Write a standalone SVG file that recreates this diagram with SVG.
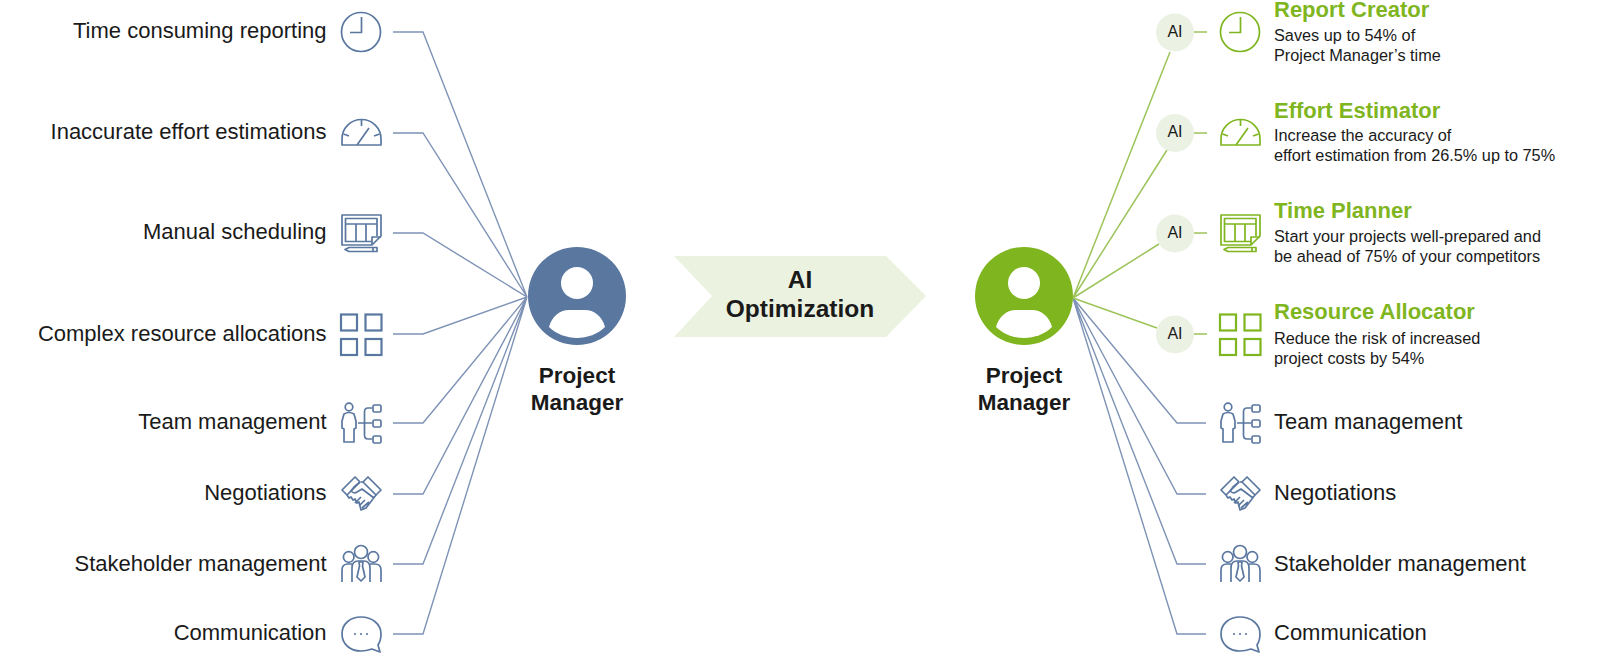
<svg xmlns="http://www.w3.org/2000/svg" width="1600" height="667" viewBox="0 0 1600 667">
<style>
text{font-family:"Liberation Sans",Arial,sans-serif;fill:#1a1a1a}
.lb{font-size:22px}
.r{text-anchor:end}
.pm{font-size:22.5px;font-weight:bold;text-anchor:middle}
.opt{font-size:24.5px;font-weight:bold;text-anchor:middle}
.t{font-size:22px;font-weight:bold;fill:#7fb51e}
.d{font-size:16.3px}
.ai{font-size:16px;text-anchor:middle}
.blue{color:#5a77a0}
.green{color:#7fb51e}
.ic{fill:none;stroke:currentColor;stroke-width:1.7;stroke-linejoin:round}
.ic2{fill:none;stroke:currentColor;stroke-width:2.2}
.bl{fill:none;stroke:#7e93b5;stroke-width:1.4}
.gl{fill:none;stroke:#9dc45a;stroke-width:1.5}
.dot{fill:currentColor;stroke:none}
.aic{fill:#ebf2e3}
</style>
<defs>
<g id="i-clock" class="ic"><circle cx="361" cy="32" r="19.5"/><path d="M361.500 17V32.500H350"/></g>
<g id="i-gauge" class="ic"><path d="M342 145V139A19.500 19.500 0 0 1 381 139V145Z"/><path d="M361.500 120V126M343.500 134L349 136M379.500 134L374 136M357 145L369 128"/></g>
<g id="i-cal" class="ic"><path d="M342 215H381V236L372 245H342Z"/><path d="M372 245V237H381"/><path d="M377 236V218.500H345.500V241.500H372M345.500 224H377M356 224V241.500M366 224V241.500"/><path d="M345 249.500L349 247.500H377V251.500H349ZM373 247.500V251.500"/></g>
<g id="i-res" class="ic2"><rect x="341" y="314.500" width="16" height="16"/><rect x="365.500" y="314.500" width="16" height="16"/><rect x="341" y="339" width="16" height="16"/><rect x="365.500" y="339" width="16" height="16"/></g>
<g id="i-team" class="ic"><circle cx="349" cy="407" r="3.800"/><path d="M344 414Q349 411 354 414L356 421V428L354 429V442H344V429L342 428V421Z"/><path d="M358 423H372M372 408H368Q364.500 408 364.500 412V435Q364.500 439 368 439H372"/><rect x="373" y="405" width="8" height="7" rx="1.500"/><rect x="373" y="420" width="8" height="7" rx="1.500"/><rect x="373" y="436" width="8" height="7" rx="1.500"/></g>
<g id="i-shake" class="ic"><path d="M342 490L355 477L360 482L347 495Z"/><path d="M381 490L368 477L363 482L376 495Z"/><path d="M360 482L354 487L351 491Q354 494 357 492L362 489L374 498M364 482H361M347 495L349 498L351 497L353 500L355 499L357 503L359 502L361 510L366 508L376 495M355 503L361 497M359 506L365 500M362 508L369 502"/></g>
<g id="i-stake" class="ic"><circle cx="361" cy="552" r="6.500"/><circle cx="348.700" cy="557" r="5.300"/><circle cx="373.300" cy="557" r="5.300"/><path d="M342 582V570Q342 564 348 564H352M381 582V570Q381 564 375 564H370M352 582V568Q352 561 358 561H364Q370 561 370 568V582"/><path d="M359 562H363L362.500 566L365 577L361 581L357 577L359.500 566Z"/></g>
<g id="i-comm" class="ic"><path d="M361 617C350 617 342 624 342 634C342 644 350 651 361 651C365 651 369 650 372 649L380 652L378 645C380 642 381 638 381 634C381 624 372 617 361 617Z"/><circle class="dot" cx="355" cy="634" r="1.100"/><circle class="dot" cx="361" cy="634" r="1.100"/><circle class="dot" cx="367" cy="634" r="1.100"/></g>
<g id="i-person"><circle cx="0" cy="0" r="49" fill="currentColor"/><circle cx="0" cy="-13" r="16" fill="#fff"/><path d="M-28 31C-25 20 -17 14 -8 14H8C17 14 25 20 28 31C21 38 10 42 0 42C-10 42 -21 38 -28 31Z" fill="#fff"/></g>
</defs>
<g id="connectors">
<path class="bl" d="M393 32H423L527 297M393 133H423L527 297M393 233H423L527 297M393 334H423L527 297M393 423H423L527 297M393 494H423L527 297M393 564H423L527 297M393 634H423L527 297"/>
<path class="bl" d="M1206 423H1177L1073 298M1206 494H1177L1073 298M1206 564H1177L1073 298M1206 634H1177L1073 298"/>
<path class="gl" d="M1073 298L1170 52M1073 298L1167 150M1073 298L1159 244M1073 298L1157 328"/>
<path class="gl" d="M1194 32H1207M1194 133H1207M1194 233H1207M1194 334H1207"/>
</g>
<g id="pm-left" class="blue"><use href="#i-person" x="577" y="296"/><text class="pm" x="577" y="383">Project</text><text class="pm" x="577" y="410">Manager</text></g>
<g id="pm-right" class="green"><use href="#i-person" x="1024" y="296"/><text class="pm" x="1024" y="383">Project</text><text class="pm" x="1024" y="410">Manager</text></g>
<g id="arrow"><polygon points="674,256 886,256 926,296 886,337 674,337 712,296" fill="#ebf2e0"/><text class="opt" x="800" y="288">AI</text><text class="opt" x="800" y="317">Optimization</text></g>
<g id="l1" class="blue"><text class="lb r" x="326.500" y="38">Time consuming reporting</text><use href="#i-clock"/></g>
<g id="l2" class="blue"><text class="lb r" x="326.500" y="139">Inaccurate effort estimations</text><use href="#i-gauge"/></g>
<g id="l3" class="blue"><text class="lb r" x="326.500" y="239">Manual scheduling</text><use href="#i-cal"/></g>
<g id="l4" class="blue"><text class="lb r" x="326.500" y="341">Complex resource allocations</text><use href="#i-res"/></g>
<g id="l5" class="blue"><text class="lb r" x="326.500" y="429">Team management</text><use href="#i-team"/></g>
<g id="l6" class="blue"><text class="lb r" x="326.500" y="500">Negotiations</text><use href="#i-shake"/></g>
<g id="l7" class="blue"><text class="lb r" x="326.500" y="571">Stakeholder management</text><use href="#i-stake"/></g>
<g id="l8" class="blue"><text class="lb r" x="326.500" y="640">Communication</text><use href="#i-comm"/></g>
<g id="r1" class="green"><circle class="aic" cx="1175" cy="32.500" r="19"/><text class="ai" x="1175" y="36.500">AI</text><use href="#i-clock" x="879"/><text class="t" x="1274" y="17">Report Creator</text><text class="d" x="1274" y="41">Saves up to 54% of</text><text class="d" x="1274" y="61">Project Manager’s time</text></g>
<g id="r2" class="green"><circle class="aic" cx="1175" cy="133" r="19"/><text class="ai" x="1175" y="137">AI</text><use href="#i-gauge" x="879"/><text class="t" x="1274" y="118">Effort Estimator</text><text class="d" x="1274" y="141">Increase the accuracy of</text><text class="d" x="1274" y="161">effort estimation from 26.5% up to 75%</text></g>
<g id="r3" class="green"><circle class="aic" cx="1175" cy="233.500" r="19"/><text class="ai" x="1175" y="238">AI</text><use href="#i-cal" x="879"/><text class="t" x="1274" y="218">Time Planner</text><text class="d" x="1274" y="242">Start your projects well-prepared and</text><text class="d" x="1274" y="262">be ahead of 75% of your competitors</text></g>
<g id="r4" class="green"><circle class="aic" cx="1175" cy="334.500" r="19"/><text class="ai" x="1175" y="339">AI</text><use href="#i-res" x="879"/><text class="t" x="1274" y="319">Resource Allocator</text><text class="d" x="1274" y="344">Reduce the risk of increased</text><text class="d" x="1274" y="364">project costs by 54%</text></g>
<g id="r5" class="blue"><use href="#i-team" x="879"/><text class="lb" x="1274" y="429">Team management</text></g>
<g id="r6" class="blue"><use href="#i-shake" x="879"/><text class="lb" x="1274" y="500">Negotiations</text></g>
<g id="r7" class="blue"><use href="#i-stake" x="879"/><text class="lb" x="1274" y="571">Stakeholder management</text></g>
<g id="r8" class="blue"><use href="#i-comm" x="879"/><text class="lb" x="1274" y="640">Communication</text></g>
</svg>
